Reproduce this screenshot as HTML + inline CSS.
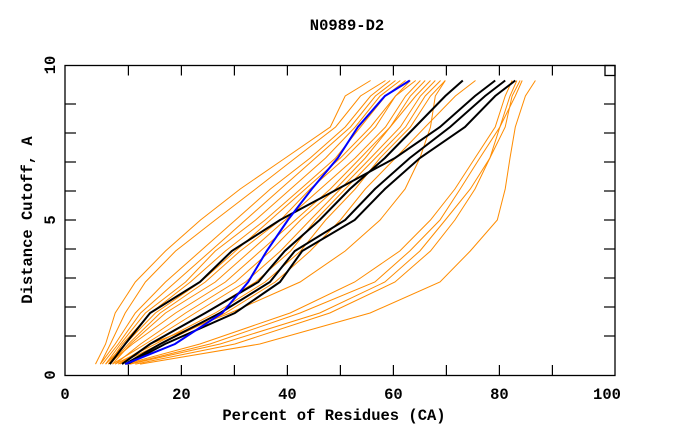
<!DOCTYPE html>
<html><head><meta charset="utf-8"><style>
html,body{margin:0;padding:0;background:#fff}
svg text{font-family:"Liberation Mono",monospace;font-weight:bold;font-size:15.5px;fill:#000}
</style></head><body>
<svg id="chart" width="680" height="440" xmlns="http://www.w3.org/2000/svg">
<text x="347" y="30" text-anchor="middle">N0989-D2</text>
<text x="334" y="420" text-anchor="middle">Percent of Residues (CA)</text>
<text transform="translate(32,220) rotate(-90)" text-anchor="middle">Distance Cutoff, A</text>
<g id="ticks"></g>
<g id="orange"></g>
<g id="dark"></g>
<g id="blue"></g>
<rect x="65" y="65.5" width="550" height="310" fill="none" stroke="#000" stroke-width="1.3"/>
<rect x="605" y="65.5" width="10" height="10" fill="none" stroke="#000" stroke-width="1.3"/>
</svg>
<script>
const cutoffs=[0.35,1,2,3,4,5,6,7,8,9,9.5];
const xTickValues=[10,20,30,40,50,60,70,80,90];
const yTickValues=[1,2,3,4,5,6,7,8,9];
const xLabels=[["0",65],["20",20],["40",40],["60",60],["80",80],["100",100]];
const yLabels=[["0",0],["5",5],["10",10]];
const orangeSeries=[
[12.2,34.8,55.6,68.8,74.5,79.6,81.1,82,83,84.9,86.8],
[11.3,30.1,48,60.3,67,71.6,75.4,78.2,81.1,82.4,83.9],
[10.3,27.3,46.1,58.4,65,69.8,74.5,78.2,80.1,83,84.3],
[10,25.4,42.4,56.5,63.1,68.8,72.6,76.3,80.1,82,83.3],
[9.4,23.5,40.5,52.7,61.2,67,71.6,75.4,79.2,81.1,82.4],
[8.4,14.1,29.2,42.4,50.9,57.5,62.2,65,67,67.9,69.8],
[3.8,5.7,7.5,11.3,17,23.6,31.1,39.6,48.1,50.9,55.7],
[4.7,6.6,9.4,13.2,18.9,26.4,34,41.5,49.1,53.8,58.5],
[4.7,7.5,11.3,17,23.6,30.2,36.8,44.3,50.9,55.7,59.4],
[5.1,8.1,12.3,18.9,25.5,32.1,38.7,45.3,51.9,56.6,60.4],
[5.7,8.5,13.2,20.8,26.4,34,40.6,47.2,52.8,57.5,61.3],
[6.2,8.9,14.2,21.7,28.3,35.8,42.5,49.1,53.8,58.5,62.3],
[5.7,9.4,15.1,23.6,30.2,36.8,43.4,50,55.7,60.4,63.2],
[6.6,10,16,24.5,31.1,38.7,44.3,50.9,56.6,60.4,64.2],
[7,10.4,17,26.4,33,39.6,46.2,52.8,58.5,62.3,65.1],
[6.2,10.8,18.9,28.3,34.9,41.5,48.1,53.8,59.4,63.2,66],
[7.5,12.3,20.8,30.2,36.8,42.5,49.1,54.7,59.4,64.2,67],
[7,13.2,22.6,32.1,38.7,44.3,50,55.7,61.3,65.1,67.9],
[8.1,14.2,24.5,34,40.6,45.3,50.9,56.6,62.3,66,68.9],
[7.5,15.1,26.4,35.8,42.5,47.2,52.8,57.5,63.2,67,69.8],
[8.1,16,28.3,37.7,44.3,50,54.7,60.4,66,71.7,75.5]
];
const blackSeries=[
[8.8,14.1,24.5,34.5,39.5,46.1,51.8,58.4,64.1,69.8,73.1],
[6.5,9.4,14.1,23.5,29.5,38.6,49.5,60.3,68.8,75.4,79.2],
[9.4,16,27.3,36.7,41.4,50.9,56.5,63.1,70.7,77.3,81.1],
[9.8,16.9,30.1,38.6,42.8,52.7,58.4,65,73.5,79.2,83]
];
const blueSeries=[9.4,18.8,27.7,32.6,36.1,40.1,44.6,49.5,53.3,58.4,63.1];

const NS="http://www.w3.org/2000/svg";
const xs=v=>75.4+5.3*v;
const ys=v=>375-31*v;
const tickY=v=>365-29*v;
function mk(tag,attrs,parent){const e=document.createElementNS(NS,tag);for(const k in attrs)e.setAttribute(k,attrs[k]);parent.appendChild(e);return e;}
const ticks=document.getElementById('ticks');
xTickValues.forEach(v=>{
  const x=xs(v);
  const t1=mk('line',{x1:x,x2:x,y1:375,y2:365,stroke:'#000','stroke-width':1.2},ticks);
  
  
  const t2=mk('line',{x1:x,x2:x,y1:65.5,y2:75.5,stroke:'#000','stroke-width':1.2},ticks);
  
  
});
yTickValues.forEach(v=>{
  const y=tickY(v);
  const t1=mk('line',{x1:65,x2:76,y1:y,y2:y,stroke:'#000','stroke-width':1.2},ticks);
  
  
  const t2=mk('line',{x1:604,x2:615,y1:y,y2:y,stroke:'#000','stroke-width':1.2},ticks);
  
  
});
xLabels.forEach(([s,v])=>{
  const x = s==="0"?65:(s==="100"?607:xs(v));
  const t=mk('text',{x:x,y:399,'text-anchor':'middle'},ticks);
  t.textContent=s;
  
  
});
yLabels.forEach(([s,v])=>{
  const y=ys(v);
  const t=mk('text',{transform:`translate(55,${y}) rotate(-90)`,'text-anchor':'middle'},ticks);
  t.textContent=s;
  
  
});
function pts(arr){return arr.map((p,i)=>xs(p).toFixed(1)+','+ys(cutoffs[i]).toFixed(1)).join(' ');}
const og=document.getElementById('orange');
orangeSeries.forEach(s=>{
  const l=mk('polyline',{points:pts(s),fill:'none',stroke:'#ff8c00','stroke-width':1},og);
  
  
});
const dg=document.getElementById('dark');
blackSeries.forEach(s=>{
  const l=mk('polyline',{points:pts(s),fill:'none',stroke:'#000','stroke-width':2},dg);
  
  
});
const bl=mk('polyline',{points:pts(blueSeries),fill:'none',stroke:'#0000ff','stroke-width':2},document.getElementById('blue'));


</script>
</body></html>
